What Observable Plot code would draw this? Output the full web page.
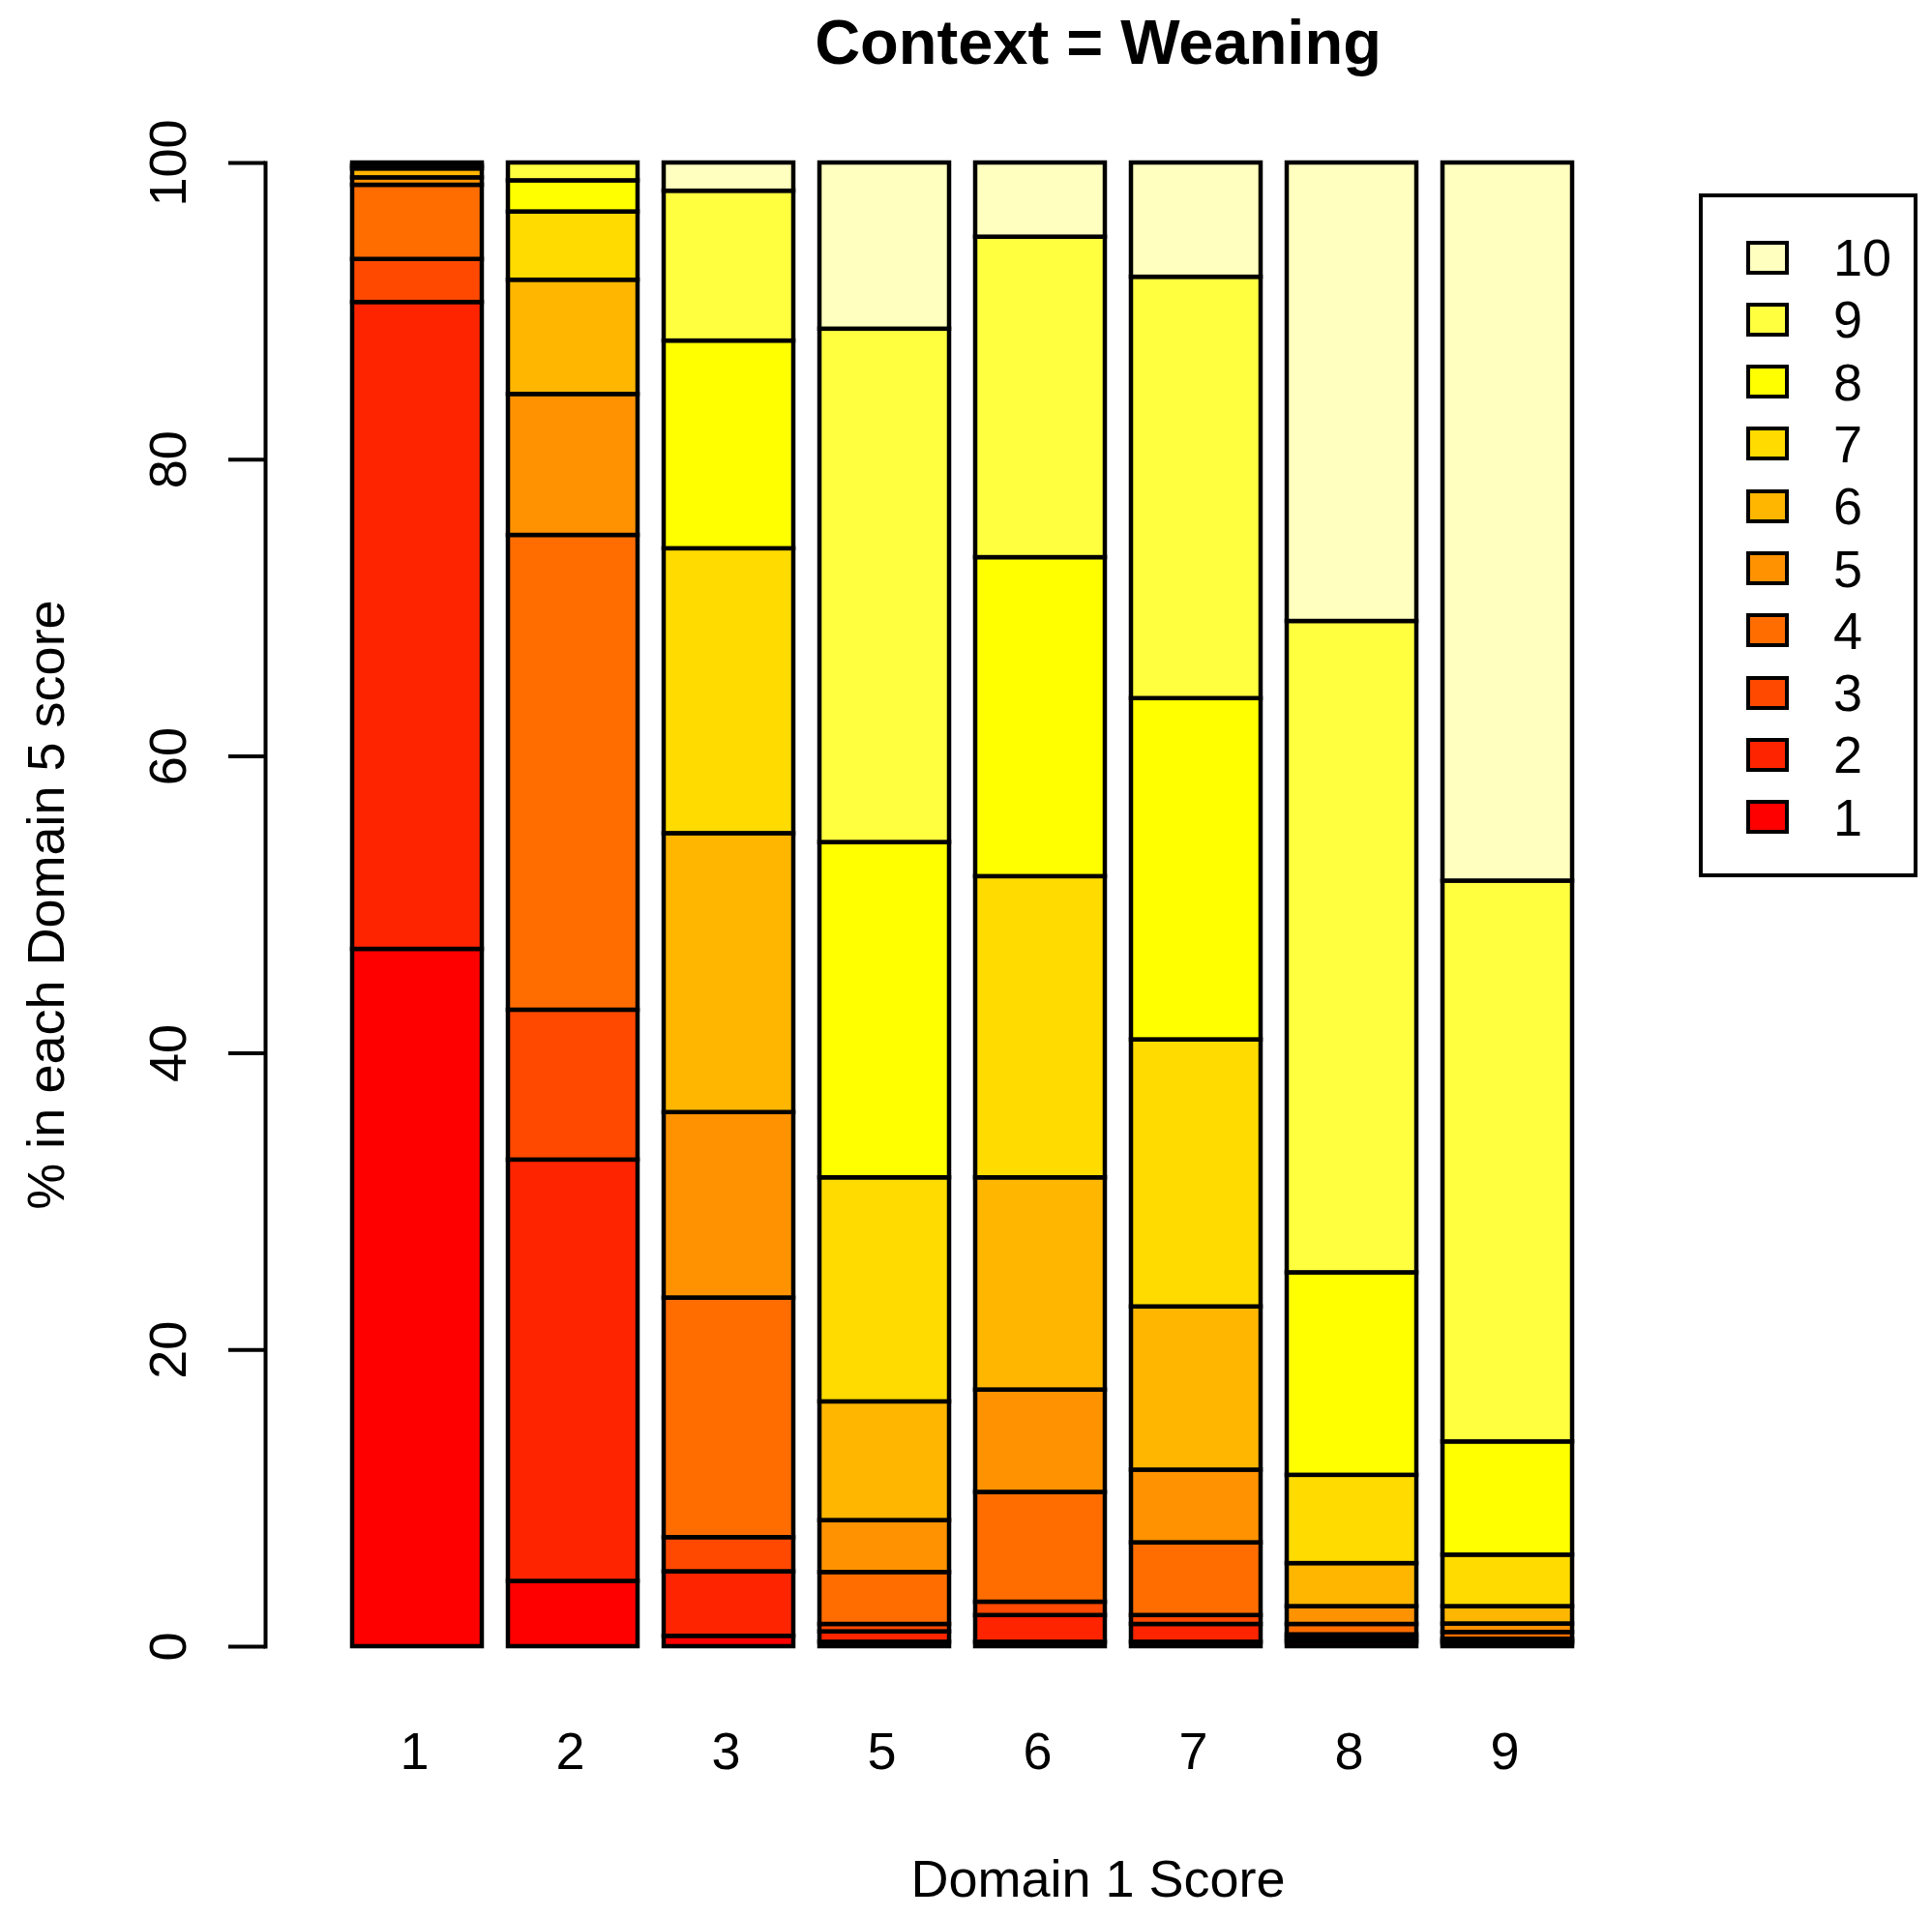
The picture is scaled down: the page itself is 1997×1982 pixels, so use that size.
<!DOCTYPE html>
<html><head><meta charset="utf-8">
<script src="https://cdn.jsdelivr.net/npm/d3@7"></script>
<script src="https://cdn.jsdelivr.net/npm/@observablehq/plot@0.6"></script>
<style>
html,body{margin:0;padding:0;background:#fff;}
body{font-family:"Liberation Sans",Arial,sans-serif;color:#000;}
#wrap{position:relative;width:1997px;height:1982px;overflow:hidden;background:#fff;}
#title{height:100px;position:relative;}
#title span{position:absolute;left:1135px;top:43px;transform:translate(-50%,-50%);font-weight:bold;font-size:65px;line-height:1;white-space:nowrap;}
#legend{position:absolute;left:1756px;top:200px;width:226px;height:707px;border:4px solid #000;box-sizing:border-box;background:#fff;}
.sw{position:absolute;left:45px;width:44px;height:35px;border:4px solid #000;box-sizing:border-box;}
.lb{position:absolute;left:135px;font-size:54px;line-height:54px;height:54px;white-space:nowrap;}
</style>
</head><body>
<div id="wrap">
  <div id="title"><span>Context = Weaning</span></div>
  <div id="chart"></div>
  <div id="legend"></div>
</div>
<script>
// Domain 1 score categories (x axis)
const d1Labels = ["1", "2", "3", "5", "6", "7", "8", "9"];
// Domain 5 score categories (stack order, bottom to top)
const d5Labels = ["1", "2", "3", "4", "5", "6", "7", "8", "9", "10"];
// heat.colors(10)
const heatColors = ["#FF0000", "#FF2400", "#FF4900", "#FF6D00", "#FF9200", "#FFB600", "#FFDB00", "#FFFF00", "#FFFF40", "#FFFFBF"];

// % in each Domain 5 score (1..10) for each Domain 1 score
const pctD1_1 = [47.0, 43.6, 2.9, 5.0, 0.5, 0.6, 0.2, 0.0, 0.2, 0.0];
const pctD1_2 = [4.4, 28.4, 10.1, 32.0, 9.5, 7.7, 4.6, 2.1, 1.2, 0.0];
const pctD1_3 = [0.7, 4.35, 2.3, 16.15, 12.5, 18.8, 19.2, 14.0, 10.1, 1.9];
const pctD1_5 = [0.3, 0.7, 0.5, 3.5, 3.5, 8.0, 15.1, 22.6, 34.6, 11.2];
const pctD1_6 = [0.3, 1.8, 0.9, 7.4, 6.9, 14.3, 20.3, 21.5, 21.6, 5.0];
const pctD1_7 = [0.3, 1.2, 0.6, 4.9, 4.9, 11.0, 18.0, 23.0, 28.4, 7.7];
const pctD1_8 = [0.3, 0.25, 0.25, 0.7, 1.2, 2.9, 5.95, 13.65, 43.9, 30.9];
const pctD1_9 = [0.2, 0.15, 0.15, 0.46, 0.57, 1.17, 3.47, 7.63, 37.8, 48.4];

const yTicks = [0, 20, 40, 60, 80, 100];
const xTitle = "Domain 1 Score";
const yTitle = "% in each Domain 5 score";

const series = [pctD1_1, pctD1_2, pctD1_3, pctD1_5, pctD1_6, pctD1_7, pctD1_8, pctD1_9];
const rows = [];
d1Labels.forEach((d1, i) => {
  series[i].forEach((v, j) => rows.push({d1, d5: d5Labels[j], pct: v}));
});

const font = '"Liberation Sans", Arial, sans-serif';
const chart = Plot.plot({
  width: 1997,
  height: 1882,
  marginTop: 68,
  marginBottom: 280,
  marginLeft: 274,
  marginRight: 282,
  style: {fontFamily: font, fontSize: "54px", background: "white", color: "black", overflow: "visible"},
  x: {domain: d1Labels, paddingInner: 1 / 6, paddingOuter: 0.553, label: null},
  y: {domain: [0, 100], label: null},
  color: {type: "ordinal", domain: d5Labels, range: heatColors},
  marks: [
    Plot.barY(rows, {x: "d1", y: "pct", fill: "d5", stroke: "black", strokeWidth: 4.5}),
    Plot.axisX({tickSize: 0, tickPadding: 88, dx: -3, fontSize: 54, label: null}),
    Plot.axisY({ticks: yTicks, tickSize: 38, strokeWidth: 4, fill: "none", label: null}),
    Plot.frame({anchor: "left", strokeWidth: 4}),
    Plot.text(yTicks, {y: d => d, text: d => String(d), frameAnchor: "left", dx: -100, rotate: -90, textAnchor: "middle", fontSize: 54}),
    Plot.text([xTitle], {text: d => d, frameAnchor: "bottom", dx: 140, dy: 258, textAnchor: "middle", fontSize: 54}),
    Plot.text([yTitle], {text: d => d, frameAnchor: "left", dx: -226, rotate: -90, textAnchor: "middle", fontSize: 54})
  ]
});
document.getElementById("chart").appendChild(chart);

// Legend (10 at top down to 1)
const legend = document.getElementById("legend");
const legendOrder = d5Labels.slice().reverse();
legendOrder.forEach((lab, i) => {
  const c = 266 + i * 64.3 - 204; // row centre relative to legend content box
  const sw = document.createElement("div");
  sw.className = "sw";
  sw.style.top = (c - 17.5) + "px";
  sw.style.background = heatColors[d5Labels.indexOf(lab)];
  legend.appendChild(sw);
  const lb = document.createElement("div");
  lb.className = "lb";
  lb.style.top = (c - 27) + "px";
  lb.textContent = lab;
  legend.appendChild(lb);
});
</script>
</body></html>
